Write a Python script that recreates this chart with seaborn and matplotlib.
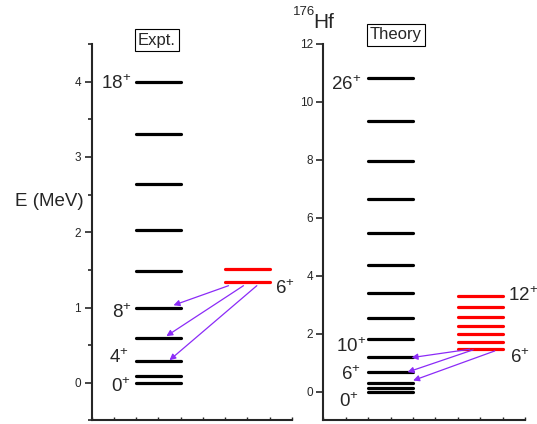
import matplotlib
matplotlib.use('Agg')
import matplotlib.pyplot as plt
import pandas as pd
import seaborn as sns
from matplotlib.ticker import MultipleLocator

# level energies (MeV)
expt_gsb = [0.0, 0.088, 0.290, 0.597, 0.998, 1.482, 2.035, 2.64, 3.30, 4.00]
expt_band = [1.333, 1.505]
theo_gsb = [0.0, 0.12, 0.30, 0.69, 1.20, 1.81, 2.54, 3.40, 4.38, 5.46, 6.66, 7.96, 9.34, 10.83]
theo_band = [1.47, 1.71, 1.97, 2.25, 2.57, 2.92, 3.31]

# spin labels: (x, baseline y, text)
expt_labels = [(1.79, 3.907, '18'), (1.79, 0.855, '8'), (1.66, 0.257, '4'), (1.75, -0.119, '0')]
expt_band_labels = [(8.24, 1.186, '6')]
theo_labels = [(1.68, 10.42, '26'), (1.90, 1.38, '10'), (1.68, 0.40, '6'), (1.59, -0.52, '0')]
theo_band_labels = [(8.24, 3.11, '12'), (8.32, 0.98, '6')]

# transitions: (x start, y start, x end, y end)
expt_arrows = [(6.15, 1.29, 3.68, 1.03), (6.82, 1.29, 3.36, 0.62), (7.42, 1.29, 3.50, 0.30)]
theo_arrows = [(6.54, 1.46, 3.94, 1.17), (6.69, 1.44, 3.76, 0.67), (7.65, 1.40, 4.01, 0.38)]

purple = '#8B2BF7'

sns.set_style('ticks')
plt.rcParams['font.family'] = ['Liberation Sans', 'DejaVu Sans']
plt.rcParams['mathtext.fontset'] = 'custom'
plt.rcParams['mathtext.rm'] = 'Liberation Sans'
plt.rcParams['mathtext.default'] = 'regular'


def level_frame(levels, x0, x1):
    rows = []
    for i, e in enumerate(levels):
        rows.append({'x': x0, 'y': e, 'lev': i})
        rows.append({'x': x1, 'y': e, 'lev': i})
    return pd.DataFrame(rows)


def draw_panel(ax, gsb, band, labels, band_labels, arrows):
    sns.lineplot(data=level_frame(gsb, 2, 4), x='x', y='y', units='lev', estimator=None,
                 color='black', lw=2.3, sort=False, ax=ax, legend=False)
    sns.lineplot(data=level_frame(band, 6, 8), x='x', y='y', units='lev', estimator=None,
                 color='red', lw=2.3, sort=False, ax=ax, legend=False)
    for x, y, t in labels:
        ax.text(x, y, r'$%s^{+}$' % t, ha='right', va='baseline', fontsize=13.5)
    for x, y, t in band_labels:
        ax.text(x, y, r'$%s^{+}$' % t, ha='left', va='baseline', fontsize=13.5)
    for x0, y0, x1, y1 in arrows:
        ax.annotate('', xy=(x1, y1), xytext=(x0, y0),
                    arrowprops=dict(arrowstyle='-|>', color=purple, lw=0.9,
                                    mutation_scale=9, shrinkA=0, shrinkB=0))
    ax.set_xlim(0, 9)
    ax.set_xticks(range(10))
    ax.set_xlabel('')
    ax.set_ylabel('')
    ax.tick_params(axis='x', direction='in', length=2, width=1, labelbottom=False)
    ax.tick_params(axis='y', which='major', direction='out', length=5, width=1.2,
                   labelsize=8.5, pad=2.5)
    ax.tick_params(axis='y', which='minor', direction='out', length=3, width=1.2)
    sns.despine(ax=ax)
    for s in ['left', 'bottom']:
        ax.spines[s].set_linewidth(1.5)


fig = plt.figure(figsize=(5.37, 4.24), dpi=100)
ax1 = fig.add_axes([0.1704, 0.0083, 0.3734, 0.888])
ax2 = fig.add_axes([0.6020, 0.0083, 0.3756, 0.888])

draw_panel(ax1, expt_gsb, expt_band, expt_labels, expt_band_labels, expt_arrows)
ax1.set_ylim(-0.5, 4.5)
ax1.set_yticks(range(5))
ax1.yaxis.set_minor_locator(MultipleLocator(0.5))

draw_panel(ax2, theo_gsb, theo_band, theo_labels, theo_band_labels, theo_arrows)
ax2.set_ylim(-1, 12)
ax2.set_yticks(range(0, 13, 2))

box = dict(boxstyle='square,pad=0.2', fc='white', ec='black', lw=0.8)
fig.text(157 / 537, 1 - 40 / 424, 'Expt.', ha='center', va='center', fontsize=12, bbox=box)
fig.text(396 / 537, 1 - 35 / 424, 'Theory', ha='center', va='center', fontsize=12, bbox=box)
fig.text(15 / 537, 1 - 202 / 424, 'E (MeV)', ha='left', va='center', fontsize=13.5)
fig.text(293 / 537, 1 - 12 / 424, '176', ha='left', va='center', fontsize=9.5)
fig.text(313 / 537, 1 - 22 / 424, 'Hf', ha='left', va='center', fontsize=15)

fig.savefig('out.png', dpi=100)
